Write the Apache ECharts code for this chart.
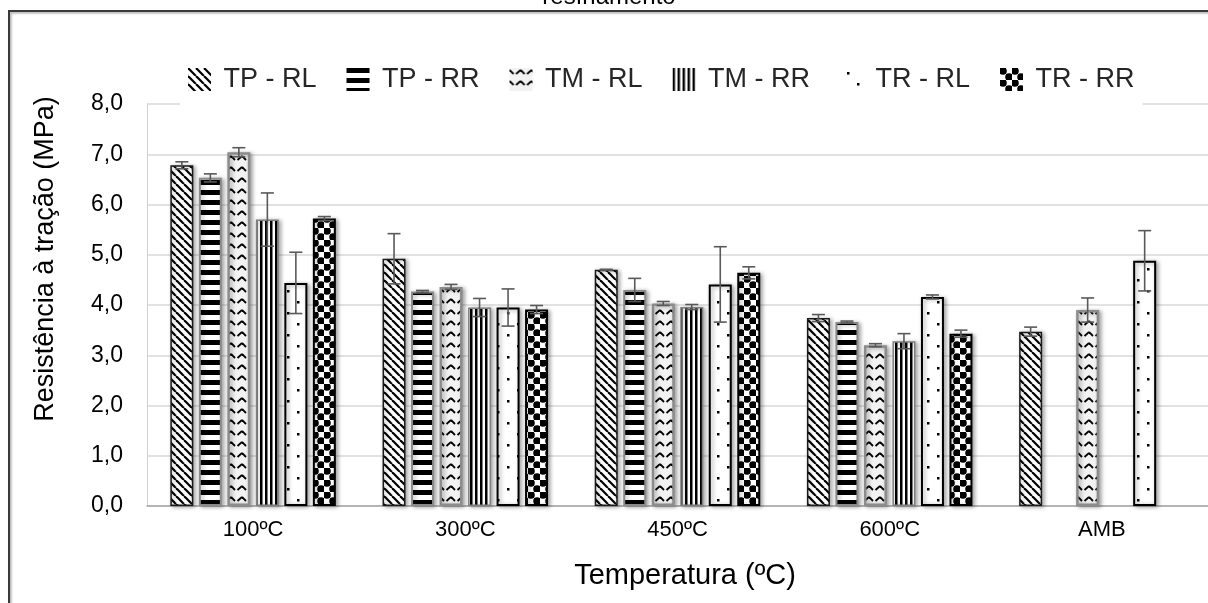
<!DOCTYPE html>
<html>
<head>
<meta charset="utf-8">
<script src="https://cdn.jsdelivr.net/npm/echarts@6/dist/echarts.min.js"></script>
<style>
  html, body { margin: 0; padding: 0; background: #ffffff; }
  #chart { width: 1208px; height: 603px; }
</style>
</head>
<body>
<div id="chart"></div>
<script>
// Tensile strength after cooling, by exposure temperature
const categories = ['100ºC', '300ºC', '450ºC', '600ºC', 'AMB'];
const seriesNames = ['TP - RL', 'TP - RR', 'TM - RL', 'TM - RR', 'TR - RL', 'TR - RR'];
const yTicks = [0, 1, 2, 3, 4, 5, 6, 7, 8];

// mean values (MPa)
const tpRL = [6.78, 4.92, 4.70, 3.74, 3.47];
const tpRR = [6.53, 4.27, 4.30, 3.66, null];
const tmRL = [7.04, 4.36, 4.03, 3.20, 3.90];
const tmRR = [5.70, 3.95, 3.96, 3.28, null];
const trRL = [4.44, 3.95, 4.41, 4.16, 4.88];
const trRR = [5.72, 3.91, 4.64, 3.43, null];

// standard deviations (MPa)
const tpRLErr = [0.07, 0.50, 0.01, 0.07, 0.09];
const tpRRErr = [0.08, 0.02, 0.23, 0.02, null];
const tmRLErr = [0.09, 0.05, 0.04, 0.03, 0.24];
const tmRRErr = [0.53, 0.18, 0.05, 0.15, null];
const trRLErr = [0.61, 0.37, 0.75, 0.04, 0.60];
const trRRErr = [0.04, 0.08, 0.12, 0.07, null];

const values = [tpRL, tpRR, tmRL, tmRR, trRL, trRR];
const errors = [tpRLErr, tpRRErr, tmRLErr, tmRRErr, trRLErr, trRRErr];

const CAT_GAP = 0.22;
const BAR_GAP = 0.24;
const FONT = '"Liberation Sans", Arial, sans-serif';

// ---- hatch fills ----
function tile(w, h, draw) {
  const c = document.createElement('canvas');
  c.width = w; c.height = h;
  const ctx = c.getContext('2d');
  draw(ctx, w, h);
  return { image: c, repeat: 'repeat' };
}

const fills = [
  // wide downward diagonal
  tile(8, 8, (ctx, w, h) => {
    ctx.fillStyle = '#fff'; ctx.fillRect(0, 0, w, h);
    ctx.strokeStyle = '#000'; ctx.lineWidth = 2.2;
    for (let k = -1; k <= 1; k++) {
      ctx.beginPath(); ctx.moveTo(k * w, 0); ctx.lineTo(k * w + w, h); ctx.stroke();
    }
  }),
  // wide horizontal
  tile(10, 10, (ctx, w, h) => {
    ctx.fillStyle = '#fff'; ctx.fillRect(0, 0, w, h);
    ctx.fillStyle = '#000'; ctx.fillRect(0, 0, w, 5);
  }),
  // zig zag
  tile(11, 11, (ctx, w, h) => {
    ctx.fillStyle = '#f2f2f2'; ctx.fillRect(0, 0, w, h);
    ctx.strokeStyle = '#000'; ctx.lineWidth = 1.8;
    ctx.beginPath(); ctx.moveTo(0, 2); ctx.lineTo(4, 6); ctx.stroke();
    ctx.beginPath(); ctx.moveTo(6.5, 6); ctx.lineTo(11, 2); ctx.stroke();
  }),
  // dark vertical
  tile(5, 5, (ctx, w, h) => {
    ctx.fillStyle = '#fff'; ctx.fillRect(0, 0, w, h);
    ctx.fillStyle = '#000'; ctx.fillRect(0, 0, 2.5, h);
  }),
  // sparse dots
  tile(20, 22, (ctx, w, h) => {
    ctx.fillStyle = '#fff'; ctx.fillRect(0, 0, w, h);
    ctx.fillStyle = '#000';
    ctx.fillRect(7, 4, 2.5, 2.5);
    ctx.fillRect(17, 15, 2.5, 2.5);
  }),
  // checker with round blobs
  tile(12, 12, (ctx, w, h) => {
    ctx.fillStyle = '#fff'; ctx.fillRect(0, 0, w, h);
    ctx.fillStyle = '#000';
    ctx.fillRect(0, 0, 6, 6); ctx.fillRect(6, 6, 6, 6);
    ctx.beginPath(); ctx.arc(3, 3, 3.8, 0, Math.PI * 2); ctx.fill();
    ctx.beginPath(); ctx.arc(9, 9, 3.8, 0, Math.PI * 2); ctx.fill();
    ctx.fillStyle = '#fff';
    ctx.beginPath(); ctx.arc(9, 3, 1.6, 0, Math.PI * 2); ctx.fill();
    ctx.beginPath(); ctx.arc(3, 9, 1.6, 0, Math.PI * 2); ctx.fill();
  })
];

const borders = [
  { color: '#1a1a1a', width: 1.5 },
  { color: '#8a8a8a', width: 2 },
  { color: '#8c8c8c', width: 2.5 },
  { color: '#7f7f7f', width: 1.5 },
  { color: '#000000', width: 2 },
  { color: '#000000', width: 2 }
];

function errorRenderer(idx) {
  return function (params, api) {
    const x = api.value(0), v = api.value(1), e = api.value(2);
    const catW = api.size([1, 0])[0];
    const usable = catW * (1 - CAT_GAP);
    const n = seriesNames.length;
    const bw = usable / (n + (n - 1) * BAR_GAP);
    const cx = api.coord([x, v])[0] - usable / 2 + idx * bw * (1 + BAR_GAP) + bw / 2;
    const yTop = api.coord([x, v + e])[1];
    const yBot = api.coord([x, v - e])[1];
    const half = 6.5;
    const style = { stroke: '#595959', lineWidth: 1.6 };
    return {
      type: 'group',
      children: [
        { type: 'line', shape: { x1: cx, y1: yTop, x2: cx, y2: yBot }, style },
        { type: 'line', shape: { x1: cx - half, y1: yTop, x2: cx + half, y2: yTop }, style },
        { type: 'line', shape: { x1: cx - half, y1: yBot, x2: cx + half, y2: yBot }, style }
      ]
    };
  };
}

const series = [];
seriesNames.forEach((name, i) => {
  series.push({
    name: name,
    type: 'bar',
    data: values[i],
    barCategoryGap: (CAT_GAP * 100) + '%',
    barGap: (BAR_GAP * 100) + '%',
    itemStyle: {
      color: fills[i],
      borderColor: borders[i].color,
      borderWidth: borders[i].width,
      shadowColor: 'rgba(0,0,0,0.35)',
      shadowBlur: 4,
      shadowOffsetX: 2,
      shadowOffsetY: 1
    },
    emphasis: { disabled: true },
    z: 2
  });
});
seriesNames.forEach((name, i) => {
  const data = [];
  values[i].forEach((v, j) => {
    if (v !== null && errors[i][j] !== null) data.push([j, v, errors[i][j]]);
  });
  series.push({
    name: 'sd ' + name,
    type: 'custom',
    renderItem: errorRenderer(i),
    data: data,
    encode: { x: 0, y: 1 },
    z: 5,
    silent: true
  });
});

const chart = echarts.init(document.getElementById('chart'), null, { renderer: 'canvas' });
chart.setOption({
  animation: false,
  backgroundColor: '#ffffff',
  grid: { left: 147, top: 104, width: 1063, bottom: 97, containLabel: false },
  graphic: [
    {
      type: 'rect',
      shape: { x: 9, y: 11, width: 1400, height: 800 },
      style: { fill: 'none', stroke: '#3a3a3a', lineWidth: 2,
               shadowColor: 'rgba(0,0,0,0.35)', shadowBlur: 2, shadowOffsetX: 1.5, shadowOffsetY: 1.5 },
      z: 0, silent: true
    },
    {
      type: 'text',
      x: 609,
      y: -15,
      style: { text: 'resfriamento', font: '24px ' + FONT, fill: '#000',
               textAlign: 'center', textVerticalAlign: 'top' },
      z: 10
    },
    {
      type: 'text',
      x: 46,
      y: 259,
      rotation: Math.PI / 2,
      style: { text: 'Resistência à tração (MPa)', font: '27px ' + FONT, fill: '#000',
               textAlign: 'center', textVerticalAlign: 'middle' },
      z: 10
    },
    {
      type: 'text',
      x: 685,
      y: 576,
      style: { text: 'Temperatura (ºC)', font: '29px ' + FONT, fill: '#000',
               textAlign: 'center', textVerticalAlign: 'middle' },
      z: 10
    }
  ],
  legend: {
    data: seriesNames,
    top: 60,
    left: 180,
    icon: 'rect',
    itemWidth: 23,
    itemHeight: 23,
    itemGap: 30,
    itemStyle: { borderWidth: 0, shadowBlur: 0, shadowOffsetX: 0, shadowOffsetY: 0 },
    backgroundColor: '#ffffff',
    padding: [6, 8, 12, 8],
    formatter: name => ' ' + name,
    textStyle: { fontFamily: FONT, fontSize: 27, color: '#262626' },
    selectedMode: false
  },
  xAxis: {
    type: 'category',
    data: categories,
    axisLine: { lineStyle: { color: '#a6a6a6', width: 1.5 } },
    axisTick: { show: false },
    axisLabel: { fontFamily: FONT, fontSize: 22, color: '#000', margin: 13 }
  },
  yAxis: {
    type: 'value',
    min: 0, max: 8, interval: 1,
    axisLine: { show: true, lineStyle: { color: '#d0d0d0', width: 1 } },
    axisTick: { show: false },
    splitLine: { lineStyle: { color: '#d9d9d9', width: 1.5 } },
    axisLabel: {
      fontFamily: FONT, fontSize: 23, color: '#000', margin: 24,
      formatter: v => yTicks.includes(v) ? v.toFixed(1).replace('.', ',') : ''
    }
  },
  series: series
});
</script>
</body>
</html>
